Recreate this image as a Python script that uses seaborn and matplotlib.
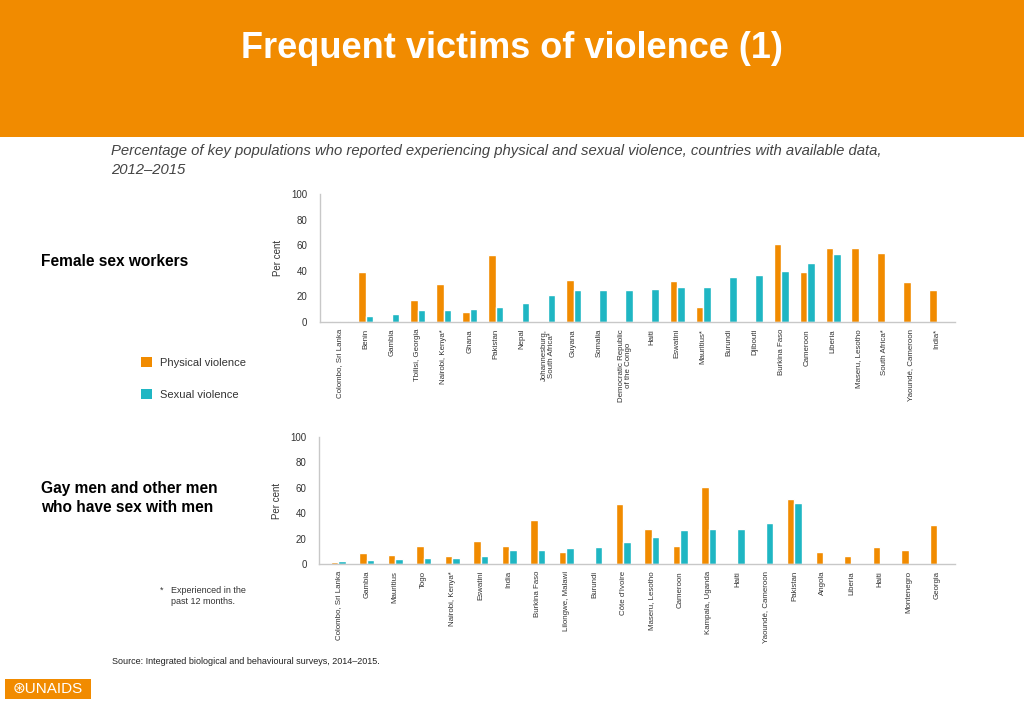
import numpy as np
import pandas as pd
import matplotlib
matplotlib.use('Agg')
import matplotlib.pyplot as plt
from matplotlib.patches import Patch, Rectangle
import seaborn as sns

# =============================================================================
# Data
# =============================================================================

fsw_places = ['Colombo, Sri Lanka', 'Benin', 'Gambia', 'Tbilisi, Georgia', 'Nairobi, Kenya*',
              'Ghana', 'Pakistan', 'Nepal', 'Johannesburg,\nSouth Africa*', 'Guyana', 'Somalia',
              'Democratic Republic\nof the Congo', 'Haiti', 'Eswatini', 'Mauritius*', 'Burundi',
              'Djibouti', 'Burkina Faso', 'Cameroon', 'Liberia', 'Maseru, Lesotho',
              'South Africa*', 'Yaoundé, Cameroon', 'India*']
fsw_physical = [1, 39, np.nan, 17, 30, 8, 52, np.nan, np.nan, 33, np.nan,
                np.nan, np.nan, 32, 12, np.nan, np.nan, 61, 39, 58, 58, 54, 31, 25]
fsw_sexual = [1, 5, 6, 9, 9, 10, 12, 15, 21, 25, 25,
              25, 26, 27, 27, 35, 37, 40, 46, 53, np.nan, np.nan, np.nan, np.nan]

msm_places = ['Colombo, Sri Lanka', 'Gambia', 'Mauritius', 'Togo', 'Nairobi, Kenya*', 'Eswatini',
              'India', 'Burkina Faso', 'Lilongwe, Malawi', 'Burundi', 'Côte d\'Ivoire',
              'Maseru, Lesotho', 'Cameroon', 'Kampala, Uganda', 'Haiti', 'Yaoundé, Cameroon',
              'Pakistan', 'Angola', 'Liberia', 'Haiti', 'Montenegro', 'Georgia']
msm_physical = [1.5, 8.5, 7, 14, 6, 18.5, 14, 35, 9.5, np.nan, 47,
                27.5, 14, 61, np.nan, np.nan, 51.5, 9.5, 6, 13, 11, 31]
msm_sexual = [2.5, 3, 4, 5, 5, 6, 11, 11, 12.5, 13, 17.5,
              21, 26.5, 27.5, 27.5, 32, 48, np.nan, np.nan, np.nan, np.nan, np.nan]

series_names = ['Physical violence', 'Sexual violence']

orange = '#F18B00'
teal = '#1FB6C3'
grey_txt = '#333333'

# =============================================================================
# Figure
# =============================================================================

sns.set_theme(style='white')
plt.rcParams['font.family'] = ['Liberation Sans', 'DejaVu Sans']

fig = plt.figure(figsize=(10.24, 7.09), dpi=100)
fig.patch.set_facecolor('white')

# header band
fig.add_artist(Rectangle((0, 1 - 137 / 709), 1, 137 / 709, transform=fig.transFigure,
                         facecolor=orange, edgecolor='none', zorder=0))
fig.text(0.5, 1 - 49 / 709, 'Frequent victims of violence (1)', color='white',
         fontsize=26, fontweight='bold', ha='center', va='center')

fig.text(111 / 1024, 1 - 151 / 709,
         'Percentage of key populations who reported experiencing physical and sexual violence, countries with available data,',
         fontsize=10.7, style='italic', color='#444444', va='center')
fig.text(111 / 1024, 1 - 170 / 709, '2012\u20132015',
         fontsize=10.7, style='italic', color='#444444', va='center')


def draw_panel(ax, places, physical, sexual, xlim, width):
    n = len(places)
    df = pd.DataFrame({
        'pos': list(range(n)) * 2,
        'value': list(physical) + list(sexual),
        'type': [series_names[0]] * n + [series_names[1]] * n,
    })
    df = df.dropna()
    sns.barplot(data=df, x='pos', y='value', hue='type', order=list(range(n)),
                hue_order=series_names, palette=[orange, teal], width=width,
                legend=False, ax=ax, saturation=1)
    ax.set_xticks(range(n))
    ax.set_xticklabels(places, rotation=90, fontsize=5.7, color=grey_txt,
                       linespacing=1.0)
    ax.set_xlim(*xlim)
    ax.set_ylim(0, 100)
    ax.set_yticks([0, 20, 40, 60, 80, 100])
    ax.tick_params(axis='y', length=0, pad=9, labelsize=7, labelcolor=grey_txt)
    ax.tick_params(axis='x', length=0, pad=5)
    ax.set_xlabel('')
    ax.set_ylabel('Per cent', fontsize=7, color=grey_txt, labelpad=6)
    for s in ['top', 'right']:
        ax.spines[s].set_visible(False)
    for s in ['left', 'bottom']:
        ax.spines[s].set_color('#C8C8C8')
        ax.spines[s].set_linewidth(1.0)


ax1 = fig.add_axes([320 / 1024, 1 - 322 / 709, 635 / 1024, 128 / 709])
draw_panel(ax1, fsw_places, fsw_physical, fsw_sexual, (-0.77, 23.7), 0.58)

ax2 = fig.add_axes([319 / 1024, 1 - 564 / 709, 636 / 1024, 127 / 709])
draw_panel(ax2, msm_places, msm_physical, msm_sexual, (-0.67, 21.63), 0.52)

# legend
handles = [Patch(facecolor=orange, edgecolor='none'), Patch(facecolor=teal, edgecolor='none')]
fig.legend(handles, series_names, loc='upper left', bbox_to_anchor=(131 / 1024, 1 - 347 / 709),
           frameon=False, fontsize=8, labelspacing=1.9, handlelength=1.0, handleheight=1.0,
           handletextpad=0.7, labelcolor=grey_txt)

# panel titles
fig.text(41 / 1024, 1 - 261 / 709, 'Female sex workers', fontsize=11.2, fontweight='bold',
         color='black', va='center')
fig.text(41 / 1024, 1 - 498 / 709, 'Gay men and other men\nwho have sex with men', fontsize=11.2,
         fontweight='bold', color='black', va='center', linespacing=1.25)

# footnote and source
fig.text(160 / 1024, 1 - 590 / 709, '*', fontsize=6.5, color=grey_txt, va='center')
fig.text(171 / 1024, 1 - 596 / 709, 'Experienced in the\npast 12 months.', fontsize=6.5,
         color=grey_txt, va='center', linespacing=1.4)
fig.text(112 / 1024, 1 - 661 / 709, 'Source: Integrated biological and behavioural surveys, 2014\u20132015.',
         fontsize=6.5, color='#222222', va='center')

# logo
fig.add_artist(Rectangle((5 / 1024, 1 - 699 / 709), 86 / 1024, 20 / 709, transform=fig.transFigure,
                         facecolor=orange, edgecolor='none'))
fig.text(48 / 1024, 1 - 689 / 709, '\u229bUNAIDS', fontsize=11, color='white', ha='center',
         va='center')

plt.savefig('out.png', dpi=100)
